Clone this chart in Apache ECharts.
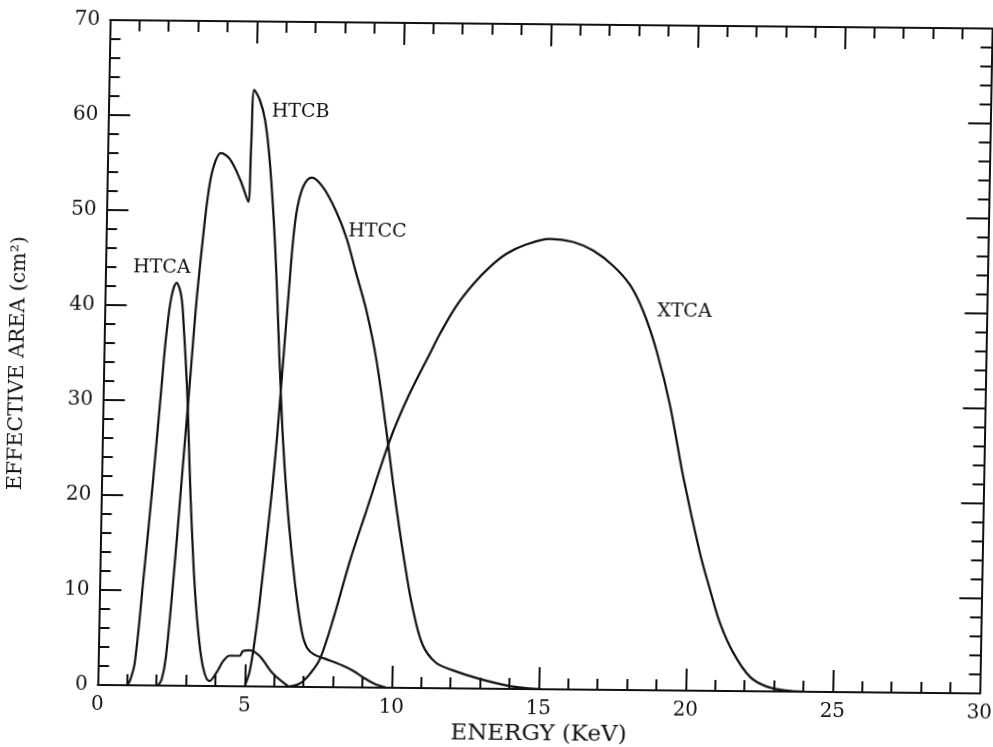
<!DOCTYPE html>
<html>
<head>
<meta charset="utf-8">
<title>Effective area vs energy</title>
<script src="https://cdn.jsdelivr.net/npm/echarts@6/dist/echarts.min.js"></script>
<style>
  html, body { margin: 0; padding: 0; background: #fff; overflow: hidden; width: 993px; height: 747px; }
  /* slight skew of the printed sheet; canvas a little larger so edge labels are not cut */
  #chart { width: 1020px; height: 770px; transform-origin: 0 0;
           transform: matrix(1, 0.00964, -0.01857, 1, 0, 0); }
</style>
</head>
<body>
<div id="chart"></div>
<script>
// Effective area (cm^2) of each detector against photon energy (keV)
const htcaEnergy = [1.0, 1.1, 1.25, 1.49, 1.76, 2.0, 2.12, 2.27, 2.43, 2.6, 2.71, 2.85, 2.93, 3.04, 3.22, 3.38, 3.57, 3.8, 4.03, 4.25, 4.47, 4.81, 4.92, 5.15, 5.49, 5.94, 6.5];
const htcaArea   = [0, 0.5, 2.4, 11.2, 21.7, 32.2, 37.1, 41.0, 42.4, 41.0, 37.5, 31.5, 26.8, 20.0, 11.2, 5.9, 2.0, 0.5, 1.4, 2.6, 3.2, 3.2, 3.7, 3.8, 3.2, 1.4, 0];

const htcbEnergy = [2.05, 2.17, 2.3, 2.51, 2.73, 2.95, 3.12, 3.31, 3.45, 3.61, 3.86, 4.16, 4.53, 4.82, 4.88, 4.95, 5.15, 5.34, 5.53, 5.76, 6.0, 6.16, 6.38, 6.65, 6.91, 7.1, 7.35, 7.7, 8.3, 8.7, 9.0, 9.4, 9.8];
const htcbArea   = [0, 0.6, 2.9, 11.2, 21.7, 32.2, 40.5, 47.5, 51.8, 54.6, 56.1, 55.5, 53.3, 51.0, 56.7, 62.8, 61.7, 59.6, 55.1, 46.3, 33.3, 25.5, 17.8, 10.8, 5.8, 4.1, 3.4, 3.0, 2.3, 1.7, 1.1, 0.4, 0];

const htccEnergy = [5.0, 5.17, 5.37, 5.57, 5.81, 5.95, 6.05, 6.24, 6.38, 6.5, 6.7, 6.96, 7.35, 7.81, 8.18, 8.54, 8.91, 9.28, 9.66, 9.92, 10.16, 10.4, 10.65, 11.02, 11.48, 12.06, 13.0, 14.0, 15.0];
const htccArea   = [0, 1.7, 6.3, 12.6, 20.7, 26.5, 31.5, 41.0, 47.5, 50.6, 52.8, 53.6, 52.6, 50.1, 47.3, 43.5, 39.6, 34.4, 27.0, 21.5, 16.8, 12.5, 8.6, 4.6, 2.7, 1.9, 1.0, 0.3, 0];

const xtcaEnergy = [6.5, 6.9, 7.22, 7.55, 8.0, 8.51, 9.0, 9.79, 10.4, 11.09, 11.42, 11.97, 12.53, 13.08, 13.64, 14.31, 15.1, 15.9, 16.59, 17.28, 17.86, 18.33, 18.81, 19.29, 19.79, 20.4, 20.77, 21.13, 21.6, 22.18, 22.75, 23.4, 24.0];
const xtcaArea   = [0, 0.4, 1.4, 3.0, 7.5, 13.4, 18.3, 26.1, 30.8, 35.2, 37.3, 40.3, 42.6, 44.4, 45.8, 46.8, 47.4, 47.1, 46.2, 44.6, 42.6, 39.8, 35.6, 30.0, 22.4, 14.5, 10.6, 7.1, 4.0, 1.5, 0.5, 0.1, 0];

// curve names and where each name is written (keV, cm^2)
const curveNames   = ['HTCA', 'HTCB', 'HTCC', 'XTCA'];
const nameEnergy   = [1.92, 6.54, 9.23, 19.72];
const nameArea     = [44.0, 60.5, 48.0, 39.9];

// axis ranges
const energyMin = 0, energyMax = 30, energyStep = 5;
const areaMin = 0, areaMax = 70, areaStep = 10;

const INK = '#111';
const SERIF = '"DejaVu Serif", "Liberation Serif", serif';

const zip = (xs, ys) => xs.map((x, i) => [x, ys[i]]);

const chart = echarts.init(document.getElementById('chart'), null, { renderer: 'canvas' });

function frameAxis(position, showLabels) {
  const horizontal = position === 'bottom' || position === 'top';
  return {
    type: 'value',
    position: position,
    min: horizontal ? energyMin : areaMin,
    max: horizontal ? energyMax : areaMax,
    interval: horizontal ? energyStep : areaStep,
    axisLine: { show: true, onZero: false, lineStyle: { color: INK, width: 2 } },
    axisTick: { show: true, inside: true, length: 22, lineStyle: { color: INK, width: 2 } },
    minorTick: { show: true, splitNumber: 5, length: 11, lineStyle: { color: INK, width: 2 } },
    splitLine: { show: false },
    minorSplitLine: { show: false },
    axisLabel: {
      show: showLabels,
      color: INK,
      fontFamily: SERIF,
      fontSize: 20,
      margin: 10
    }
  };
}

const lineSeries = (name, xs, ys) => ({
  name: name,
  type: 'line',
  data: zip(xs, ys),
  showSymbol: false,
  smooth: 0.35,
  lineStyle: { color: INK, width: 2.2 },
  emphasis: { disabled: true },
  silent: true,
  z: 3
});

chart.setOption({
  animation: false,
  backgroundColor: '#fff',
  grid: { left: 110.35, top: 18.9, width: 882, height: 665, containLabel: false, outerBoundsMode: 'none' },
  xAxis: [frameAxis('bottom', true), frameAxis('top', false)],
  yAxis: [frameAxis('left', true), frameAxis('right', false)],
  series: [
    lineSeries('HTCA', htcaEnergy, htcaArea),
    lineSeries('HTCB', htcbEnergy, htcbArea),
    lineSeries('HTCC', htccEnergy, htccArea),
    lineSeries('XTCA', xtcaEnergy, xtcaArea)
  ]
});

// curve names placed through the chart's own scales
const nameTexts = curveNames.map((name, i) => {
  const p = chart.convertToPixel({ gridIndex: 0 }, [nameEnergy[i], nameArea[i]]);
  return {
    type: 'text', x: p[0], y: p[1], z: 10, silent: true,
    style: {
      text: name, fill: INK, font: '19px ' + SERIF,
      align: 'center', verticalAlign: 'middle',
      textAlign: 'center', textVerticalAlign: 'middle'
    }
  };
});

const axisTitles = [
  {
    type: 'text', x: 552, y: 729, z: 10, silent: true,
    style: {
      text: 'ENERGY (KeV)', fill: INK, font: '23px ' + SERIF,
      align: 'center', verticalAlign: 'middle',
      textAlign: 'center', textVerticalAlign: 'middle'
    }
  },
  {
    type: 'text', x: 25, y: 363, rotation: Math.PI / 2, z: 10, silent: true,
    style: {
      text: 'EFFECTIVE AREA (cm²)', fill: INK, font: '20.5px ' + SERIF,
      align: 'center', verticalAlign: 'middle',
      textAlign: 'center', textVerticalAlign: 'middle'
    }
  }
];

chart.setOption({ graphic: nameTexts.concat(axisTitles) });
</script>
</body>
</html>
